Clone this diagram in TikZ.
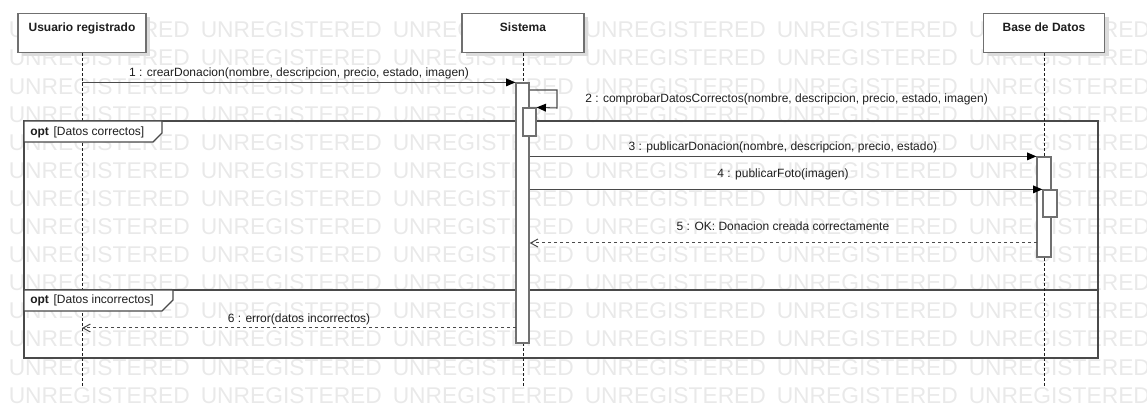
\documentclass[tikz,border=0pt]{standalone}
\usepackage{fontspec}
\setmainfont{Liberation Sans}
\usetikzlibrary{fit,arrows.meta,shadows}

\definecolor{wmark}{HTML}{E9E9E9}
\definecolor{boxedge}{HTML}{707070}
\definecolor{lineink}{HTML}{4A4A4A}
\definecolor{shade}{HTML}{DCDCDC}
\definecolor{ink}{HTML}{1E1E1E}

\tikzset{
  watermark/.style={text=wmark, font=\fontsize{17.1pt}{17.1pt}\selectfont, inner sep=0pt, anchor=west},
  actor/.style={draw=boxedge, fill=white, line width=0.9pt, inner xsep=0pt, inner ysep=0pt, anchor=north,
    text height=13.2pt, text depth=16pt, text=ink,
    font=\fontsize{9pt}{11pt}\selectfont\bfseries,
    drop shadow={shadow xshift=3pt, shadow yshift=-2.5pt, fill=shade, opacity=1}},
  activation/.style={draw=boxedge, fill=white, line width=0.9pt, inner sep=0pt},
  lifeline/.style={draw=ink, line width=0.75pt, dash pattern=on 2.25pt off 1.5pt},
  call/.style={draw=lineink, line width=0.8pt, -{Triangle[length=7pt, width=5.8pt, color=black]}},
  ret/.style={draw=lineink, line width=0.75pt, dash pattern=on 2.25pt off 2.25pt,
    -{Straight Barb[length=5.5pt, width=6pt]}},
  lbl/.style={font=\fontsize{9pt}{11pt}\selectfont, text=ink, inner sep=0pt},
  frame/.style={draw=lineink, line width=1pt},
  tab/.style={draw=lineink, fill=white, line width=1pt},
  tabtext/.style={font=\fontsize{9pt}{11pt}\selectfont, text=ink, inner sep=0pt, anchor=west},
}

\begin{document}
\begin{tikzpicture}[x=0.75pt, y=-0.75pt]
\useasboundingbox (0,0) rectangle (1147,409);

% background watermark
\foreach \r in {0,...,13}{
  \foreach \c in {0,...,5}{
    \node[watermark] (wm-\r-\c) at ({8.5+192*\c},{30+28.1*\r}) {UNREGISTERED};
  }
}

% combined fragments
\coordinate (f1a) at (24,121);
\coordinate (f1b) at (1098,290);
\coordinate (f2b) at (1098,358);
\draw[frame] (f1a) rectangle (f1b);
\draw[frame] (f1a |- f1b) rectangle (f2b);

% participants
\node[actor, minimum width=96pt] (user) at (82,13) {Usuario registrado};
\node[actor, minimum width=91.5pt] (sys) at (523,13) {Sistema};
\node[actor, minimum width=90.75pt] (db) at (1044,13) {Base de Datos};

% lifelines
\coordinate (userEnd) at (82,388);
\coordinate (sysEnd) at (523,388);
\coordinate (dbEnd) at (1044,388);
\draw[lifeline] (user.south) -- (userEnd);
\draw[lifeline] (sys.south) -- (sysEnd);
\draw[lifeline] (db.south) -- (dbEnd);

% fragment tabs
\draw[tab] (f1a) -- (162,121) -- (162,133) -- (153,142) -- (24,142) -- cycle;
\node[tabtext] (opt1) at (30,132) {\textbf{opt}\hspace{3.5pt}[Datos correctos]};
\draw[tab] (24,290) -- (173,290) -- (173,300) -- (162,311) -- (24,311) -- cycle;
\node[tabtext] (opt2) at (30,300) {\textbf{opt}\hspace{3.5pt}[Datos incorrectos]};

% activation bars
\coordinate (sA) at (516,83);   \coordinate (sB) at (529,343);
\node[activation, fit=(sA)(sB)] (actS) {};
\coordinate (sC) at (523,108);  \coordinate (sD) at (536,136);
\node[activation, fit=(sC)(sD)] (actS2) {};
\coordinate (dA) at (1037,157); \coordinate (dB) at (1051,257);
\node[activation, fit=(dA)(dB)] (actD) {};
\coordinate (dC) at (1043,190); \coordinate (dD) at (1057,217);
\node[activation, fit=(dC)(dD)] (actD2) {};

% messages
\draw[call] (user.south |- actS.north west) -- (actS.north west);
\node[lbl] (l1) at (299,73) {1 : crearDonacion(nombre, descripcion, precio, estado, imagen)};

\coordinate (loopA) at (557,90);
\coordinate (loopB) at (557,108);
\draw[call] (actS.east |- loopA) -- (loopA) -- (loopB) -- (actS2.north east);
\node[lbl, anchor=west] (l2) at (585,99) {2 : comprobarDatosCorrectos(nombre, descripcion, precio, estado, imagen)};

\draw[call] (actS.east |- actD.north) -- (actD.north west);
\node[lbl] (l3) at (783,147) {3 : publicarDonacion(nombre, descripcion, precio, estado)};

\draw[call] (actS.east |- actD2.north) -- (actD2.north west);
\node[lbl] (l4) at (783,174) {4 : publicarFoto(imagen)};

\coordinate (r5) at (1037,243);
\draw[ret] (r5) -- (actS.east |- r5);
\node[lbl] (l5) at (783,226) {5 : OK: Donacion creada correctamente};

\coordinate (r6) at (516,328);
\draw[ret] (r6) -- (user.south |- r6);
\node[lbl] (l6) at (299,319) {6 : error(datos incorrectos)};
\end{tikzpicture}
\end{document}
